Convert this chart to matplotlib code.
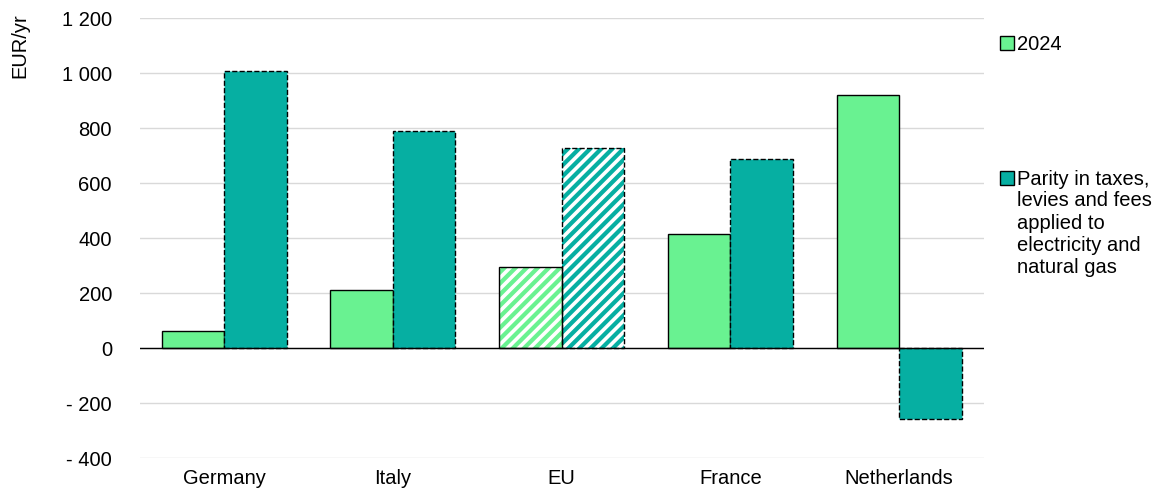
import numpy as np
import matplotlib
matplotlib.use("Agg")
import matplotlib.pyplot as plt
from matplotlib.patches import Patch
from matplotlib.ticker import FuncFormatter

# data
countries = ["Germany", "Italy", "EU", "France", "Netherlands"]
vals_2024 = [62, 211, 295, 415, 922]
vals_parity = [1008, 790, 728, 686, -257]
hatched = ["EU"]

lbl_2024 = "2024"
lbl_parity = ["Parity in taxes,", "levies and fees", "applied to",
              "electricity and", "natural gas"]

c_light = "#69F291"
c_teal = "#06AFA2"
fs = 14.5

plt.rcParams["font.family"] = ["Liberation Sans", "DejaVu Sans"]
plt.rcParams["font.size"] = fs
plt.rcParams["hatch.linewidth"] = 2.6

fig = plt.figure(figsize=(11.64, 4.9), dpi=100)
ax = fig.add_axes([0.120, 0.065, 0.725, 0.898])

x = np.arange(len(countries))
w = 0.37

for i, c in enumerate(countries):
    is_h = c in hatched
    for off, v, col, ls in [(-w / 2, vals_2024[i], c_light, "solid"),
                            (w / 2, vals_parity[i], c_teal, "dashed")]:
        if is_h:
            ax.bar(x[i] + off, v, w, color=col, edgecolor="white", hatch="///",
                   linewidth=0, zorder=2)
            ax.bar(x[i] + off, v, w, fill=False, edgecolor="black",
                   linewidth=1.0, linestyle=ls, zorder=3)
        else:
            ax.bar(x[i] + off, v, w, color=col, edgecolor="black",
                   linewidth=1.0, linestyle=ls, zorder=2)

ax.set_xlim(-0.5, len(countries) - 0.5)
ax.set_ylim(-400, 1200)
ax.set_yticks(np.arange(-400, 1201, 200))


def fmt(v, pos):
    s = f"{abs(int(v)):,}".replace(",", " ")
    return ("- " + s) if v < 0 else s


ax.yaxis.set_major_formatter(FuncFormatter(fmt))
ax.set_xticks(x)
ax.set_xticklabels(countries)
ax.tick_params(axis="both", length=0, labelsize=fs, colors="black")
ax.tick_params(axis="y", pad=20)
ax.tick_params(axis="x", pad=8)

ax.grid(axis="y", color="#D9D9D9", linewidth=1.0, zorder=0)
ax.set_axisbelow(True)
ax.axhline(0, color="black", linewidth=1.0, zorder=4)
for s in ax.spines.values():
    s.set_visible(False)

ax.set_ylabel("EUR/yr", loc="top", fontsize=fs)
ax.yaxis.set_label_coords(-0.131, 1.012)

h1 = Patch(facecolor=c_light, edgecolor="black", linewidth=1.0)
h2 = Patch(facecolor=c_teal, edgecolor="black", linewidth=1.0)
leg1 = ax.legend([h1], [lbl_2024], loc="center left", bbox_to_anchor=(1.019, 0.939),
                 frameon=False, handlelength=0.7, handleheight=0.7,
                 handletextpad=0.15, fontsize=fs, borderaxespad=0, borderpad=0)
ax.add_artist(leg1)
leg2 = ax.legend([h2], [lbl_parity[0]], loc="center left", bbox_to_anchor=(1.019, 0.634),
                 frameon=False, handlelength=0.7, handleheight=0.7,
                 handletextpad=0.15, fontsize=fs, borderaxespad=0, borderpad=0)

# remaining label lines go under the first one, left-aligned with it
fig.canvas.draw()
bb = leg2.get_texts()[0].get_window_extent()
x0, y0 = fig.transFigure.inverted().transform((bb.x0, bb.y0))
fig.text(x0, y0 - 0.005, "\n".join(lbl_parity[1:]), ha="left", va="top",
         fontsize=fs, linespacing=1.23)

fig.savefig("out.png", dpi=100)
